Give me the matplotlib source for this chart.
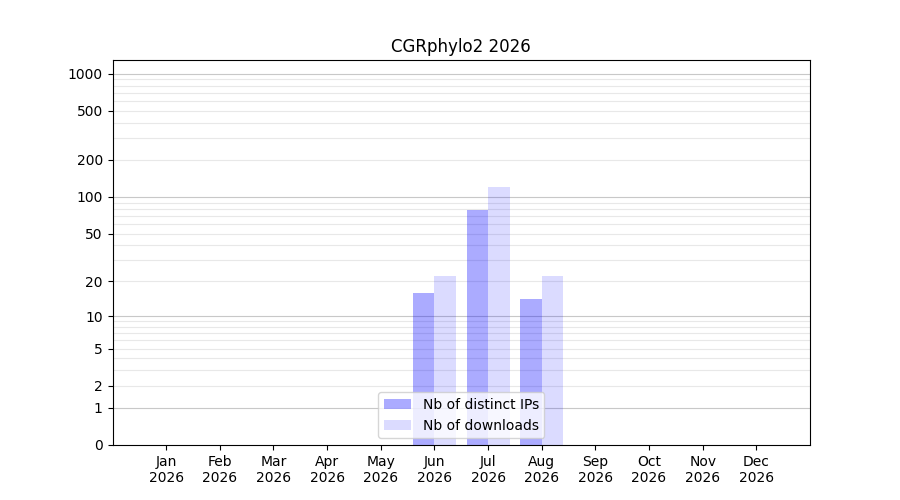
import matplotlib
matplotlib.use("Agg")
import matplotlib.pyplot as plt
import numpy as np

# ── Data ──────────────────────────────────────────────────────────────────────
year = 2026
months = ["Jan", "Feb", "Mar", "Apr", "May", "Jun",
          "Jul", "Aug", "Sep", "Oct", "Nov", "Dec"]
distinct_ips = [0, 0, 0, 0, 0, 16, 78, 14, 0, 0, 0, 0]
downloads = [0, 0, 0, 0, 0, 22, 120, 22, 0, 0, 0, 0]
ytick_values = [0, 1, 2, 5, 10, 20, 50, 100, 200, 500, 1000]


def fwd(y):
    return np.log10(np.asarray(y, dtype=float) + 1)


def inv(y):
    return 10 ** np.asarray(y, dtype=float) - 1


fig, ax = plt.subplots(figsize=(9, 5), dpi=100)
ax.set_yscale("function", functions=(fwd, inv))

x = np.arange(len(months))
w = 0.4
ax.bar(x - w / 2, distinct_ips, width=w, color="blue", alpha=0.33,
       label="Nb of distinct IPs", zorder=2)
ax.bar(x + w / 2, downloads, width=w, color="blue", alpha=0.14,
       label="Nb of downloads", zorder=2)

# horizontal grid: decades darker, in-between values lighter
for dec in [1, 10, 100]:
    for m in range(2, 10):
        ax.axhline(m * dec, color="#e8e8e8", linewidth=0.8, zorder=0)
for v in [1, 10, 100, 1000]:
    ax.axhline(v, color="#c8c8c8", linewidth=0.8, zorder=1)

ax.set_ylim(0, 1290)
ax.set_yticks(ytick_values)
ax.set_yticklabels([str(v) for v in ytick_values])
ax.yaxis.set_minor_locator(matplotlib.ticker.NullLocator())

ax.set_xlim(-1, 12)
ax.set_xticks(x)
ax.set_xticklabels([f"{m}\n{year}" for m in months])

ax.set_title(f"CGRphylo2 {year}")
ax.legend(loc="lower center")

plt.savefig("out.png", dpi=100)
plt.close()
